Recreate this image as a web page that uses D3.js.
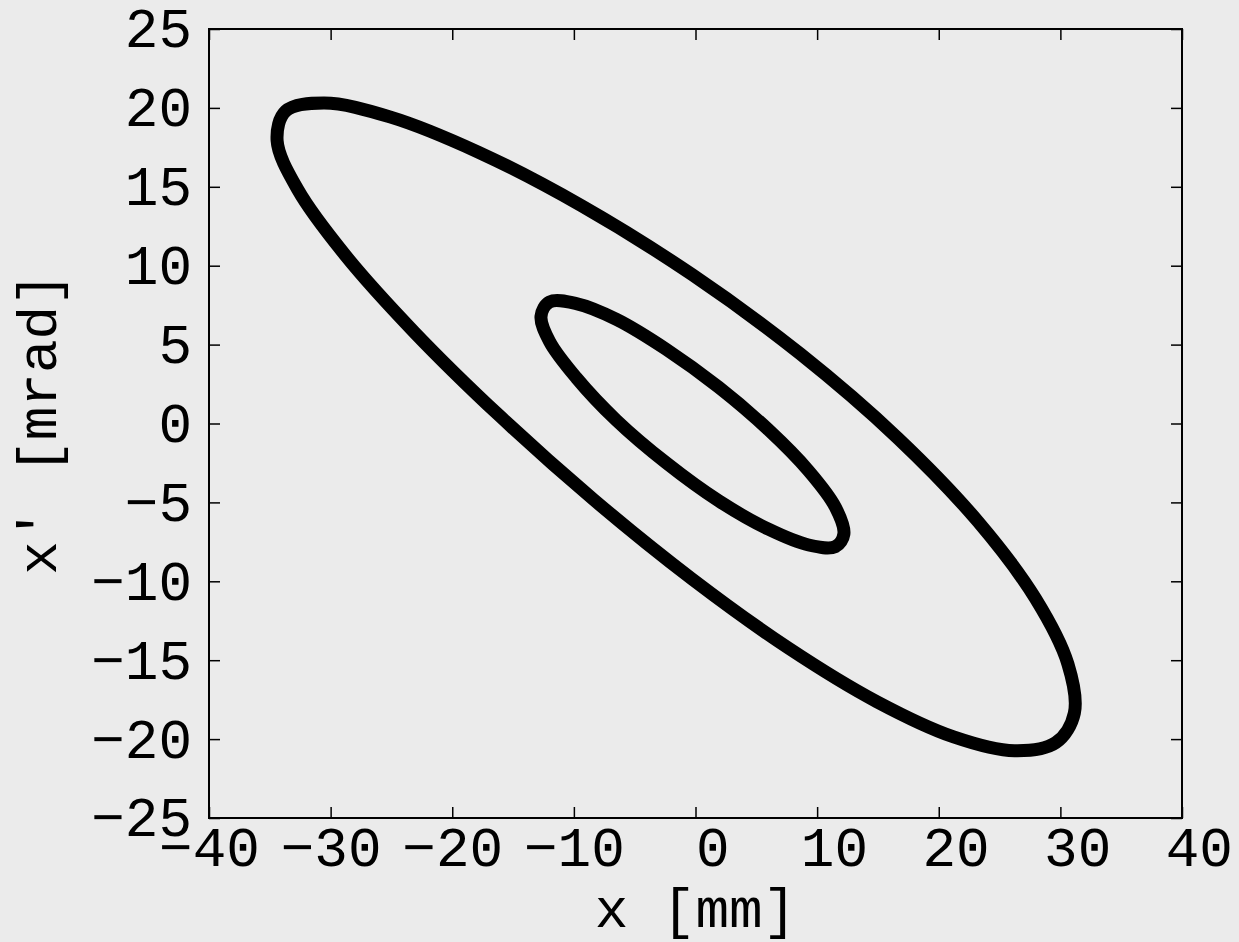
<!DOCTYPE html>
<html>
<head>
<meta charset="utf-8">
<script src="https://d3js.org/d3.v7.min.js"></script>
<style>
  html, body { margin: 0; padding: 0; background: #ebebeb; }
  svg text { font-family: "Liberation Mono", "Courier New", monospace; white-space: pre; }
</style>
</head>
<body>
<div id="vis-container"></div>
<script>
// tick values
const xTicks = [-40, -30, -20, -10, 0, 10, 20, 30, 40];
const yTicks = [-25, -20, -15, -10, -5, 0, 5, 10, 15, 20, 25];

// outer orbit, x [mm] / x' [mrad]
const outerX = [31.15, 30.62, 27.96, 23.23, 16.64, 8.62, -0.27, -9.35, -17.87, -25.13, -30.54, -33.69, -34.40, -32.69, -28.80, -23.12, -16.13, -8.35, -0.27, 7.62, 14.91, 21.22, 26.23, 29.62];
const outerY = [-18.35, -15.24, -11.10, -6.22, -0.93, 4.41, 9.43, 13.79, 17.20, 19.43, 20.31, 19.80, 17.92, 14.81, 10.67, 5.79, 0.50, -4.84, -9.86, -14.22, -17.63, -19.86, -20.74, -20.23];

// inner orbit
const innerX = [12.2, 11.5, 9.3, 6.0, 1.9, -2.4, -6.5, -9.8, -12.0, -12.7, -12.0, -9.8, -6.5, -2.4, 1.9, 6.0, 9.3, 11.5];
const innerY = [-7.0, -5.3, -3.0, -0.4, 2.3, 4.7, 6.6, 7.6, 7.7, 6.8, 5.2, 2.9, 0.2, -2.5, -4.9, -6.7, -7.7, -7.8];

const width = 1239, height = 942;
const m = { left: 209, right: 1182, top: 29, bottom: 818 };

const svg = d3.select("#vis-container")
  .append("svg")
  .attr("width", width)
  .attr("height", height);

svg.append("rect")
  .attr("width", width)
  .attr("height", height)
  .attr("fill", "#ebebeb");

const xScale = d3.scaleLinear().domain([-40, 40]).range([m.left, m.right]);
const yScale = d3.scaleLinear().domain([-25, 25]).range([m.bottom, m.top]);

// positive labels keep a blank where the minus would be
const fmt = d => d < 0 ? "\u2212" + Math.abs(d) : " " + d;

// orbits
const line = d3.line()
  .x(d => xScale(d[0]))
  .y(d => yScale(d[1]))
  .curve(d3.curveCatmullRomClosed.alpha(0.5));

[[outerX, outerY], [innerX, innerY]].forEach(([xs, ys]) => {
  svg.append("path")
    .datum(xs.map((x, i) => [x, ys[i]]))
    .attr("d", line)
    .attr("fill", "none")
    .attr("stroke", "#000")
    .attr("stroke-width", 13)
    .attr("stroke-linejoin", "round");
});

// axes, ticks pointing inward
const xAxis = svg.append("g")
  .attr("transform", `translate(0,${m.bottom})`)
  .call(d3.axisBottom(xScale).tickValues(xTicks).tickSizeInner(-11).tickSizeOuter(0).tickFormat(fmt));
xAxis.selectAll("text").attr("y", 48).attr("dy", null);

const yAxis = svg.append("g")
  .attr("transform", `translate(${m.left},0)`)
  .call(d3.axisLeft(yScale).tickValues(yTicks).tickSizeInner(-11).tickSizeOuter(0).tickFormat(fmt));
yAxis.selectAll("text").attr("x", -17).attr("dy", "0.32em");

svg.append("g")
  .attr("transform", `translate(0,${m.top})`)
  .call(d3.axisTop(xScale).tickValues(xTicks).tickSizeInner(-11).tickSizeOuter(0).tickFormat(""));

svg.append("g")
  .attr("transform", `translate(${m.right},0)`)
  .call(d3.axisRight(yScale).tickValues(yTicks).tickSizeInner(-11).tickSizeOuter(0).tickFormat(""));

svg.selectAll(".domain").remove();
svg.selectAll(".tick line").attr("stroke", "#000").attr("stroke-width", 1.5);
svg.selectAll(".tick text")
  .attr("fill", "#000")
  .attr("font-size", 56)
  .attr("font-family", "Liberation Mono, Courier New, monospace");

// frame
svg.append("rect")
  .attr("x", m.left)
  .attr("y", m.top)
  .attr("width", m.right - m.left)
  .attr("height", m.bottom - m.top)
  .attr("fill", "none")
  .attr("stroke", "#000")
  .attr("stroke-width", 2);

// axis titles
svg.append("text")
  .attr("x", (m.left + m.right) / 2)
  .attr("y", 927)
  .attr("text-anchor", "middle")
  .attr("font-size", 56)
  .text("x [mm]");

svg.append("text")
  .attr("transform", `translate(56,${(m.top + m.bottom) / 2}) rotate(-90)`)
  .attr("text-anchor", "middle")
  .attr("font-size", 56)
  .text("x' [mrad]");
</script>
</body>
</html>
